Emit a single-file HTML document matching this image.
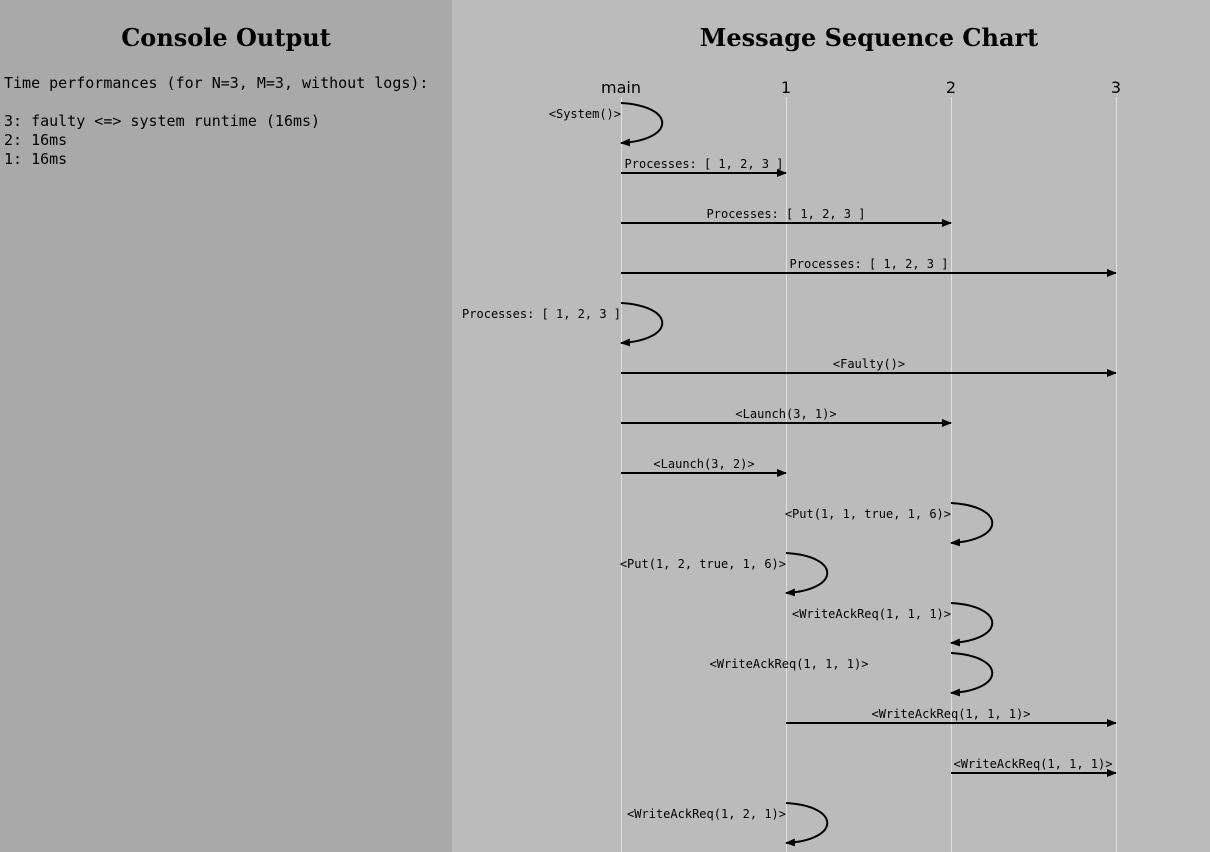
<!DOCTYPE html>
<html><head><meta charset="utf-8"><style>
html,body{margin:0;padding:0;width:1210px;height:852px;overflow:hidden;background:#bbb}
</style></head><body>
<svg width="1210" height="852" xmlns="http://www.w3.org/2000/svg" style="display:block">
<defs>
<marker id="ah" markerWidth="10" markerHeight="8" refX="9" refY="4" orient="auto" markerUnits="userSpaceOnUse">
<path d="M0,0 L10,4 L0,8 z" fill="#000"/>
</marker>
</defs>
<rect x="0" y="0" width="452" height="852" fill="#a9a9a9"/>
<rect x="452" y="0" width="758" height="852" fill="#bbbbbb"/>
<g font-family="'DejaVu Serif','Liberation Serif',serif" font-weight="bold" font-size="24" text-anchor="middle" fill="#000">
<text x="226" y="46">Console Output</text>
<text x="869" y="46">Message Sequence Chart</text>
</g>
<g font-family="'DejaVu Sans Mono','Liberation Mono',monospace" font-size="15" fill="#000">
<text x="4" y="88">Time performances (for N=3, M=3, without logs):</text>
<text x="4" y="126">3: faulty &lt;=&gt; system runtime (16ms)</text>
<text x="4" y="145">2: 16ms</text>
<text x="4" y="164">1: 16ms</text>
</g>
<g font-family="'DejaVu Sans','Liberation Sans',sans-serif" font-size="16" text-anchor="middle" fill="#000">
<text x="621" y="93">main</text>
<text x="786" y="93">1</text>
<text x="951" y="93">2</text>
<text x="1116" y="93">3</text>
</g>
<g stroke="#e0e0e0" stroke-width="1">
<line x1="621.5" y1="97" x2="621.5" y2="852"/>
<line x1="786.5" y1="97" x2="786.5" y2="852"/>
<line x1="951.5" y1="97" x2="951.5" y2="852"/>
<line x1="1116.5" y1="97" x2="1116.5" y2="852"/>
</g>
<g stroke="#000" stroke-width="2" fill="none" marker-end="url(#ah)">
<path d="M621,103 C676,106 676,140 621,143"/>
<line x1="621" y1="173" x2="786" y2="173"/>
<line x1="621" y1="223" x2="951" y2="223"/>
<line x1="621" y1="273" x2="1116" y2="273"/>
<path d="M621,303 C676,306 676,340 621,343"/>
<line x1="621" y1="373" x2="1116" y2="373"/>
<line x1="621" y1="423" x2="951" y2="423"/>
<line x1="621" y1="473" x2="786" y2="473"/>
<path d="M951,503 C1006,506 1006,540 951,543"/>
<path d="M786,553 C841,556 841,590 786,593"/>
<path d="M951,603 C1006,606 1006,640 951,643"/>
<path d="M951,653 C1006,656 1006,690 951,693"/>
<line x1="786" y1="723" x2="1116" y2="723"/>
<line x1="951" y1="773" x2="1116" y2="773"/>
<path d="M786,803 C841,806 841,840 786,843"/>
</g>
<g font-family="'DejaVu Sans Mono','Liberation Mono',monospace" font-size="12" fill="#000">
<g text-anchor="end">
<text x="621" y="118">&lt;System()&gt;</text>
<text x="621" y="318">Processes: [ 1, 2, 3 ]</text>
<text x="951" y="518">&lt;Put(1, 1, true, 1, 6)&gt;</text>
<text x="786" y="568">&lt;Put(1, 2, true, 1, 6)&gt;</text>
<text x="951" y="618">&lt;WriteAckReq(1, 1, 1)&gt;</text>
<text x="786" y="818">&lt;WriteAckReq(1, 2, 1)&gt;</text>
</g>
<g text-anchor="middle">
<text x="704" y="168">Processes: [ 1, 2, 3 ]</text>
<text x="786" y="218">Processes: [ 1, 2, 3 ]</text>
<text x="869" y="268">Processes: [ 1, 2, 3 ]</text>
<text x="869" y="368">&lt;Faulty()&gt;</text>
<text x="786" y="418">&lt;Launch(3, 1)&gt;</text>
<text x="704" y="468">&lt;Launch(3, 2)&gt;</text>
<text x="789" y="668">&lt;WriteAckReq(1, 1, 1)&gt;</text>
<text x="951" y="718">&lt;WriteAckReq(1, 1, 1)&gt;</text>
<text x="1033" y="768">&lt;WriteAckReq(1, 1, 1)&gt;</text>
</g>
</g>
</svg>
</body></html>
